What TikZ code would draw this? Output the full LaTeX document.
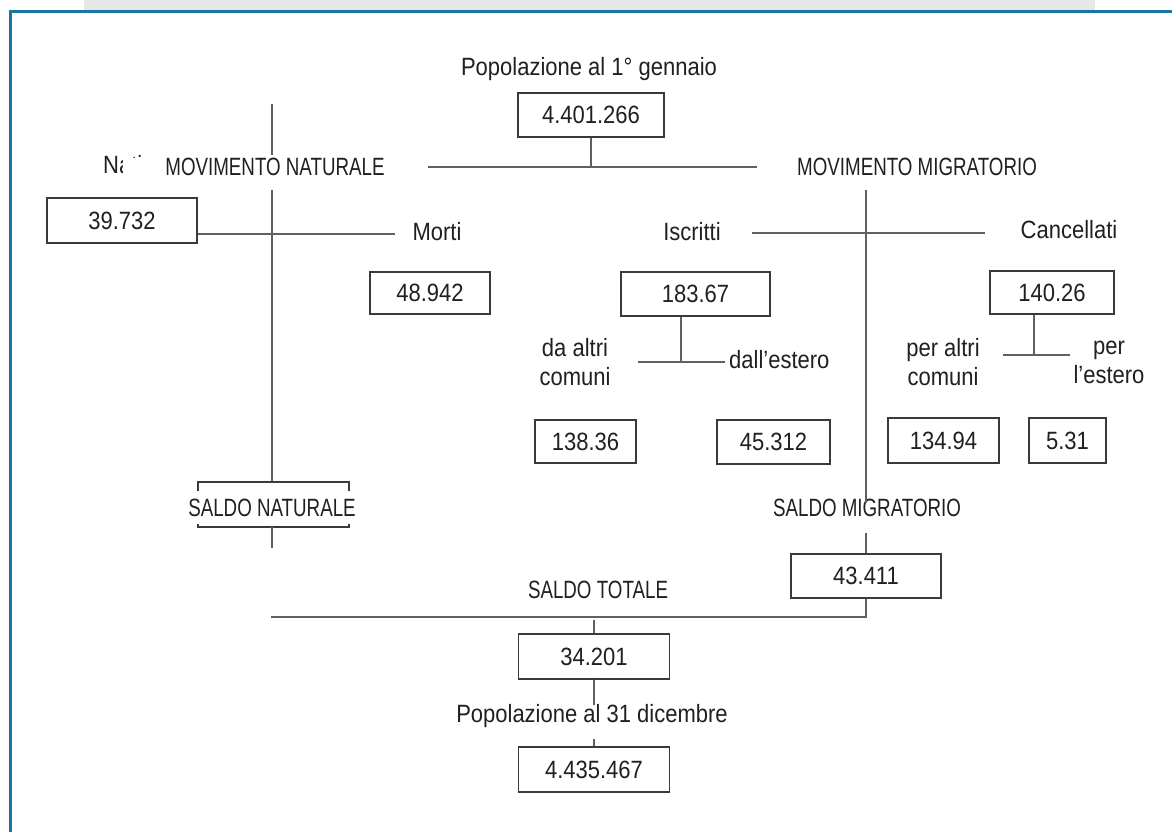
\documentclass[tikz,border=0pt]{standalone}
\usepackage{fontspec}
\setmainfont{Liberation Sans}[FakeStretch=0.88]
\newfontfamily\capsfont{Liberation Sans}[FakeStretch=0.75]
\definecolor{ink}{HTML}{231F20}
\definecolor{linec}{HTML}{5F6062}
\definecolor{boxc}{HTML}{3A3A3A}
\definecolor{band}{HTML}{E6E7E9}
\definecolor{frameblue}{HTML}{1B75A3}
\begin{document}
\begin{tikzpicture}[x=1pt,y=-1pt,
  txt/.style={inner sep=0pt, text=ink, font=\fontsize{25}{29}\selectfont, align=center},
  caps/.style={inner sep=0pt, text=ink, font=\capsfont\fontsize{25}{29}\selectfont},
  numbox/.style={draw=boxc, line width=1.3pt, inner sep=0pt, text=ink, font=\fontsize{25}{29}\selectfont},
  conn/.style={draw=linec, line width=1.5pt}]
\useasboundingbox (0,0) rectangle (1172,832);
\fill[white] (0,0) rectangle (1172,832);
% frame
\fill[band] (84,0) rectangle (1095,10);
\draw[frameblue, line width=3pt] (10,832) -- (10,12) -- (1172,12);

% top
\node[txt] (popstart) at (589,69) {Popolazione al 1° gennaio};
\node[numbox, minimum width=146pt, minimum height=44pt] (b0) at (591,115) {4.401.266};
\coordinate (topj) at (591,167);
\coordinate (hl) at (428,167);
\coordinate (hr) at (757,167);
\draw[conn] (b0.south) -- (topj);
\draw[conn] (hl) -- (hr);

% natural movement
\node[txt, anchor=base west] (nati) at (103,173) {Nati};
\fill[white] (123,158) rectangle (162,182);
\node[caps] (movnat) at (275,167) {MOVIMENTO NATURALE};
\node[numbox, minimum width=150pt, minimum height=45pt] (bnati) at (122,220.5) {39.732};
\node[txt] (morti) at (437,232) {Morti};
\node[numbox, minimum width=120pt, minimum height=42pt] (bmorti) at (430,293) {48.942};
\coordinate (nt) at (272,104);
\coordinate (nt2) at (272,155);
\coordinate (nb1) at (272,190);
\coordinate (nmr) at (395,234);
\draw[conn] (nt) -- (nt2);
\draw[conn] (nb1) -- (272,482);
\draw[conn] (bnati.east |- nmr) -- (nmr);

\node[caps] (saldonat) at (272,508) {SALDO NATURALE};
\draw[line width=1.2pt, draw=boxc] (198,491) -- (198,482) -- (349,482) -- (349,491);
\draw[line width=1.2pt, draw=boxc] (198,524) -- (198,527) -- (349,527) -- (349,524);
\coordinate (nend) at (272,548);
\draw[conn] (272,527) -- (nend);

% migratory movement
\node[caps] (movmig) at (917,167) {MOVIMENTO MIGRATORIO};
\node[txt] (iscr) at (692,232) {Iscritti};
\node[txt] (canc) at (1069,230) {Cancellati};
\coordinate (icl) at (752,233);
\coordinate (icr) at (985,233);
\draw[conn] (icl) -- (icr);

\node[numbox, minimum width=149pt, minimum height=44pt] (biscr) at (695.5,294) {183.67};
\coordinate (ij) at (681,362);
\draw[conn] (biscr.south -| ij) -- (ij);
\draw[conn] (638,362) -- (725,362);
\node[txt] (daaltri) at (575,362) {da altri\\comuni};
\node[txt, anchor=west] (dallest) at (729,360) {dall’estero};
\node[numbox, minimum width=101pt, minimum height=43pt] (b138) at (585.5,441.5) {138.36};
\node[numbox, minimum width=113pt, minimum height=44pt] (b45) at (773.5,442) {45.312};

\node[numbox, minimum width=124pt, minimum height=43pt] (bcanc) at (1052,292.5) {140.26};
\coordinate (cj) at (1034,355);
\draw[conn] (bcanc.south -| cj) -- (cj);
\draw[conn] (1003,355) -- (1070,355);
\node[txt] (peraltri) at (943,362) {per altri\\comuni};
\node[txt] (perest) at (1109,362) {per\\l’estero};
\node[numbox, minimum width=111pt, minimum height=45pt] (b134) at (943.5,440.5) {134.94};
\node[numbox, minimum width=77pt, minimum height=45pt] (b5) at (1067.5,440.5) {5.31};

\node[caps] (saldomig) at (867,508) {SALDO MIGRATORIO};
\node[numbox, minimum width=150pt, minimum height=44pt] (bsm) at (866,576) {43.411};
\coordinate (mt) at (866,190);
\draw[conn] (mt) -- (866,503);
\draw[conn] (866,533) -- (bsm.north);

% total
\coordinate (tj) at (866,617);
\coordinate (tl) at (271,617);
\draw[conn] (bsm.south) -- (tj) -- (tl);
\node[caps] (saldotot) at (598,590) {SALDO TOTALE};
\node[numbox, minimum width=151pt, minimum height=45pt] (bst) at (594,656.5) {34.201};
\draw[conn] (594,620) -- (bst.north);
\node[txt] (popend) at (592,716) {Popolazione al 31 dicembre};
\draw[conn] (bst.south) -- (594,705);
\node[numbox, minimum width=151pt, minimum height=45pt] (bfin) at (594,769.5) {4.435.467};
\draw[conn] (594,739) -- (bfin.north);
\end{tikzpicture}
\end{document}
